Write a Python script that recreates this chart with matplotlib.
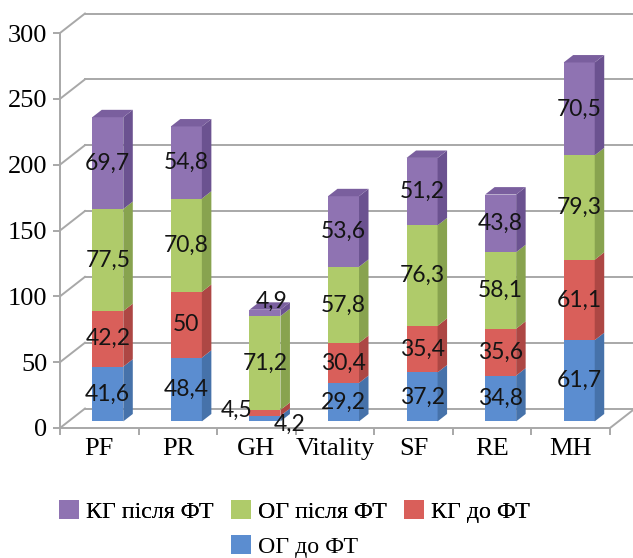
import numpy as np
import matplotlib.pyplot as plt
from matplotlib.patches import Polygon, Patch

# SF-36 scales, stacked values per group
categories = ["PF", "PR", "GH", "Vitality", "SF", "RE", "MH"]
og_before = [41.6, 48.4, 4.2, 29.2, 37.2, 34.8, 61.7]
kg_before = [42.2, 50, 4.5, 30.4, 35.4, 35.6, 61.1]
og_after = [77.5, 70.8, 71.2, 57.8, 76.3, 58.1, 79.3]
kg_after = [69.7, 54.8, 4.9, 53.6, 51.2, 43.8, 70.5]

series = [og_before, kg_before, og_after, kg_after]
names = ["ОГ до ФТ", "КГ до ФТ", "ОГ після ФТ", "КГ після ФТ"]
front = ["#5b8dd0", "#d95f5a", "#afcb6a", "#8f73b2"]
side = ["#4672aa", "#ad4744", "#88a34f", "#6b5290"]
top = ["#5180c0", "#c65350", "#9bb85c", "#7a5f9e"]

# oblique depth of the floor / walls (category units, value units)
DX, DY = 0.318, 14.8
F0, F1 = 0.34, 0.72      # front and back of the bars as depth fractions
W = 0.395
grid_c = "#a8a8a8"

fig = plt.figure(figsize=(6.33, 5.58), dpi=100)
ax = fig.add_axes([60 / 633, 130 / 558, 550 / 633, 395 / 558])
ax.set_xlim(0, 7)
ax.set_ylim(0, 300)

# walls and floor
for v in range(0, 301, 50):
    ax.plot([DX, 7 + DX], [v + DY, v + DY], color=grid_c, lw=1.4, clip_on=False, zorder=1)
    ax.plot([0, DX], [v, v + DY], color=grid_c, lw=1.4, clip_on=False, zorder=1)
ax.plot([7, 7 + DX], [0, DY], color=grid_c, lw=1.4, clip_on=False, zorder=1)

x = np.arange(len(categories)) + 0.5
xf = x + F0 * DX
ddx, ddy = (F1 - F0) * DX, (F1 - F0) * DY
cum = np.zeros(len(categories))
for k, vals in enumerate(series):
    vals = np.array(vals, dtype=float)
    ax.bar(xf, vals, width=W, bottom=cum + F0 * DY, color=front[k], zorder=3)
    for i in range(len(categories)):
        xr = xf[i] + W / 2
        y0 = cum[i] + F0 * DY
        y1 = y0 + vals[i]
        ax.add_patch(Polygon([(xr, y0), (xr + ddx, y0 + ddy), (xr + ddx, y1 + ddy), (xr, y1)],
                             closed=True, facecolor=side[k], edgecolor="none", zorder=3))
        if k == len(series) - 1:
            xl = xf[i] - W / 2
            ax.add_patch(Polygon([(xl, y1), (xr, y1), (xr + ddx, y1 + ddy), (xl + ddx, y1 + ddy)],
                                 closed=True, facecolor=top[k], edgecolor="none", zorder=3))
    cum += vals

# value labels
label_shift = {(2, 0): (0.31, -4.4), (2, 1): (-0.36, 2.0), (2, 3): (0.08, 8.8)}
cum = np.zeros(len(categories))
for k, vals in enumerate(series):
    for i, v in enumerate(vals):
        sx, sy = label_shift.get((i, k), (0, 0))
        ax.text(xf[i] + sx, cum[i] + v / 2 + F0 * DY + sy, f"{v:g}".replace(".", ","),
                ha="center", va="center", fontsize=16.5, family="Lato", color="#141414", zorder=5)
    cum += np.array(vals)

# axes
for s in ["top", "right"]:
    ax.spines[s].set_visible(False)
for s in ["left", "bottom"]:
    ax.spines[s].set_color(grid_c)
    ax.spines[s].set_linewidth(1.4)
ax.set_yticks(range(0, 301, 50))
ax.set_xticks(range(8))
ax.set_xticklabels([])
ax.set_xticks(x, minor=True)
ax.set_xticklabels(categories, minor=True)
ax.tick_params(axis="both", which="major", color=grid_c, width=1.4, length=5, direction="out")
ax.tick_params(axis="x", which="minor", length=0, pad=7)
ax.tick_params(axis="both", which="both", labelfontfamily="Liberation Serif", labelsize=19)
ax.tick_params(axis="y", pad=4)
ax.patch.set_visible(False)

# legend: three entries on the first row, the last one centred below
handles = [Patch(facecolor=front[k], edgecolor="none") for k in range(4)]
order = [3, 2, 1]
leg_kw = dict(frameon=False, prop={"family": "Liberation Serif", "size": 17.2},
              handlelength=0.85, handleheight=0.85, handletextpad=0.3, columnspacing=0.7)
leg1 = fig.legend([handles[k] for k in order], [names[k] for k in order], ncol=3,
                  loc="center", bbox_to_anchor=(0.465, 0.084), **leg_kw)
fig.legend([handles[0]], [names[0]], loc="center", bbox_to_anchor=(0.465, 0.02), **leg_kw)
fig.add_artist(leg1)

fig.savefig("out.png", dpi=100)
